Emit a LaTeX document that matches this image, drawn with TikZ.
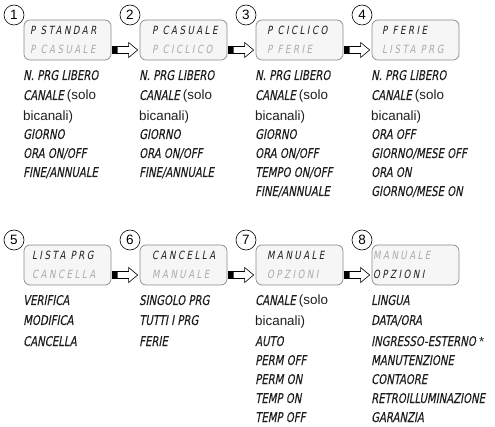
\documentclass[tikz,border=0pt]{standalone}
\usepackage{fontspec}
\setmainfont{Liberation Sans}
\newfontfamily\lcd[FakeSlant=0.18,FakeStretch=0.84,FakeBold=0.15]{DejaVu Sans Condensed}
\newfontfamily\lcdbox[FakeSlant=0.18,FakeStretch=0.85,LetterSpace=22]{DejaVu Sans Condensed}
\usetikzlibrary{calc}
\definecolor{boxline}{HTML}{8A8A8A}
\definecolor{boxfill}{HTML}{F6F6F6}
\definecolor{dimtext}{HTML}{ABABAB}
\definecolor{darktext}{HTML}{1E1E1E}
\tikzset{
  lcdpanel/.style={draw=boxline, fill=boxfill, rounded corners=6pt, line width=0.7pt,
    minimum width=87pt, minimum height=40pt, inner sep=0pt},
  numc/.style={circle, draw=black, fill=white, line width=0.6pt, minimum size=20pt,
    inner sep=0pt, font=\fontsize{13.5}{13.5}\selectfont},
  paneltxt/.style={anchor=base west, inner sep=0pt, text=darktext, font=\lcdbox\fontsize{11.3}{11.3}\selectfont},
  paneldim/.style={paneltxt, text=dimtext},
  item/.style={anchor=base west, inner sep=0pt, text=darktext, font=\lcd\fontsize{13.4}{13.4}\selectfont},
}
\newcommand{\sansbit}[1]{{\fontsize{13.4}{13.4}\selectfont\normalfont #1}}
\newcommand{\blockarrow}[2]{%
  \path ($(#1.east)+(1,10)$) coordinate (#1-as);
  \path ($(#2.west)+(-2,10)$) coordinate (#1-ae);
  \fill[black] ($(#1-as)+(0,-3.8)$) rectangle ($(#1-as)+(5,3.8)$);
  \draw[fill=white, line width=0.6pt, line join=miter]
    ($(#1-as)+(5,-3.5)$) -- ($(#1-ae)+(-9,-3.5)$) -- ($(#1-ae)+(-9,-7.5)$) --
    (#1-ae) -- ($(#1-ae)+(-9,7.5)$) -- ($(#1-ae)+(-9,3.5)$) -- ($(#1-as)+(5,3.5)$) -- cycle;
}
\begin{document}
\begin{tikzpicture}[x=1pt,y=-1pt]
\useasboundingbox (0,0) rectangle (495,427);
% ---------- row 1 ----------
\node[lcdpanel] (b1) at (67.5,40) {};
\node[lcdpanel] (b2) at (183.5,40) {};
\node[lcdpanel] (b3) at (299.5,40) {};
\node[lcdpanel] (b4) at (415.5,40) {};
\node[numc] (c1) at (14,15) {1};
\node[numc] (c2) at (130,15) {2};
\node[numc] (c3) at (246,15) {3};
\node[numc] (c4) at (362,15) {4};
\node[paneltxt] (t1a) at (30,34.5) {P STANDAR};
\node[paneldim] (t1b) at (30,54) {P CASUALE};
\node[paneltxt] (t2a) at (152,34.5) {P CASUALE};
\node[paneldim] (t2b) at (152,54) {P CICLICO};
\node[paneltxt] (t3a) at (267,34.5) {P CICLICO};
\node[paneldim] (t3b) at (267,54) {P FERIE};
\node[paneltxt] (t4a) at (382,34.5) {P FERIE};
\node[paneldim] (t4b) at (382,54) {LISTA PRG};
\blockarrow{b1}{b2}
\blockarrow{b2}{b3}
\blockarrow{b3}{b4}
% lists row 1
\node[item] (l1a) at (23,80) {N. PRG LIBERO};
\node[item] (l1b) at (23,100) {CANALE \sansbit{(solo}};
\node[item] (l1c) at (23,120.5) {\sansbit{bicanali)}};
\node[item] (l1d) at (23,139) {GIORNO};
\node[item] (l1e) at (23,158) {ORA ON/OFF};
\node[item] (l1f) at (23,177) {FINE/ANNUALE};
\node[item] (l2a) at (139,80) {N. PRG LIBERO};
\node[item] (l2b) at (139,100) {CANALE \sansbit{(solo}};
\node[item] (l2c) at (139,120.5) {\sansbit{bicanali)}};
\node[item] (l2d) at (139,139) {GIORNO};
\node[item] (l2e) at (139,158) {ORA ON/OFF};
\node[item] (l2f) at (139,177) {FINE/ANNUALE};
\node[item] (l3a) at (255,80) {N. PRG LIBERO};
\node[item] (l3b) at (255,100) {CANALE \sansbit{(solo}};
\node[item] (l3c) at (255,120.5) {\sansbit{bicanali)}};
\node[item] (l3d) at (255,139) {GIORNO};
\node[item] (l3e) at (255,158) {ORA ON/OFF};
\node[item] (l3f) at (255,177) {TEMPO ON/OFF};
\node[item] (l3g) at (255,196) {FINE/ANNUALE};
\node[item] (l4a) at (371,80) {N. PRG LIBERO};
\node[item] (l4b) at (371,100) {CANALE \sansbit{(solo}};
\node[item] (l4c) at (371,120.5) {\sansbit{bicanali)}};
\node[item] (l4d) at (371,139) {ORA OFF};
\node[item] (l4e) at (371,158) {GIORNO/MESE OFF};
\node[item] (l4f) at (371,177) {ORA ON};
\node[item] (l4g) at (371,196) {GIORNO/MESE ON};
% ---------- row 2 ----------
\node[lcdpanel] (b5) at (67.5,265) {};
\node[lcdpanel] (b6) at (183.5,265) {};
\node[lcdpanel] (b7) at (299.5,265) {};
\node[lcdpanel] (b8) at (415.5,265) {};
\node[numc] (c5) at (14,240) {5};
\node[numc] (c6) at (130,240) {6};
\node[numc] (c7) at (246,240) {7};
\node[numc] (c8) at (362,240) {8};
\node[paneltxt] (t5a) at (32,259.5) {LISTA PRG};
\node[paneldim] (t5b) at (32,279) {CANCELLA};
\node[paneltxt] (t6a) at (152,259.5) {CANCELLA};
\node[paneldim] (t6b) at (152,279) {MANUALE};
\node[paneltxt] (t7a) at (267,259.5) {MANUALE};
\node[paneldim] (t7b) at (267,279) {OPZIONI};
\node[paneldim] (t8a) at (373,259.5) {MANUALE};
\node[paneltxt] (t8b) at (373,279) {OPZIONI};
\blockarrow{b5}{b6}
\blockarrow{b6}{b7}
\blockarrow{b7}{b8}
% lists row 2
\node[item] (l5a) at (23,305) {VERIFICA};
\node[item] (l5b) at (23,325) {MODIFICA};
\node[item] (l5c) at (23,346) {CANCELLA};
\node[item] (l6a) at (139,305) {SINGOLO PRG};
\node[item] (l6b) at (139,325) {TUTTI I PRG};
\node[item] (l6c) at (139,346) {FERIE};
\node[item] (l7a) at (255,305) {CANALE \sansbit{(solo}};
\node[item] (l7b) at (255,325.5) {\sansbit{bicanali)}};
\node[item] (l7c) at (255,346) {AUTO};
\node[item] (l7d) at (255,365) {PERM OFF};
\node[item] (l7e) at (255,384) {PERM ON};
\node[item] (l7f) at (255,403) {TEMP ON};
\node[item] (l7g) at (255,422) {TEMP OFF};
\node[item] (l8a) at (371,305) {LINGUA};
\node[item] (l8b) at (371,325) {DATA/ORA};
\node[item] (l8c) at (371,346) {INGRESSO-ESTERNO \sansbit{*}};
\node[item] (l8d) at (371,365) {MANUTENZIONE};
\node[item] (l8e) at (371,384) {CONTAORE};
\node[item] (l8f) at (371,403) {RETROILLUMINAZIONE};
\node[item] (l8g) at (371,422) {GARANZIA};
\end{tikzpicture}
\end{document}
